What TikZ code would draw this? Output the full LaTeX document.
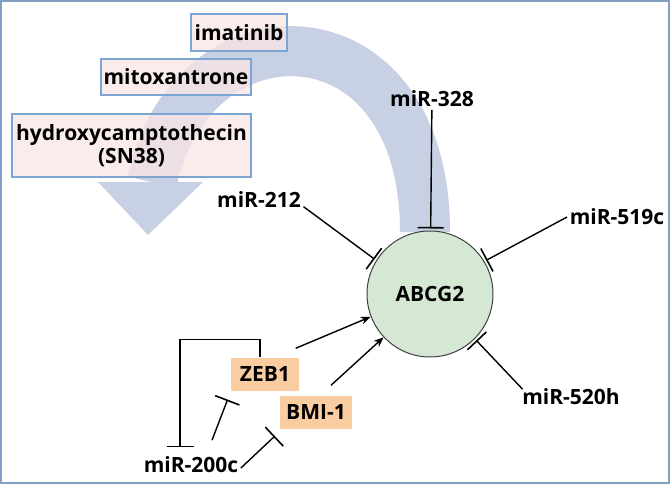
\documentclass[tikz,border=0pt]{standalone}
\usepackage{fontspec}
\setmainfont{Open Sans}
\usetikzlibrary{arrows.meta}

\definecolor{frameblue}{RGB}{130,160,195}
\definecolor{bandblue}{RGB}{200,208,228}
\definecolor{boxline}{RGB}{125,165,210}
\definecolor{boxfill}{RGB}{250,230,230}
\definecolor{tfill}{RGB}{250,205,160}
\definecolor{cellgreen}{RGB}{213,232,212}

\begin{document}
\begin{tikzpicture}[
        x = 1pt, y = 1pt, % one unit is one pixel
        > = {Stealth[length=10pt,width=8pt]}, % arrow head style
        line width = 1.4pt, % line style
        inh/.style = {-{Bar[width=26pt,line width=1.6pt]}, shorten > = 2pt}
    ]

    \tikzstyle{every node}=[font=\bfseries\fontsize{21}{23}\selectfont,
    inner sep = 2pt]
    \tikzstyle{drug}=[draw = boxline, fill = boxfill, fill opacity = 0.75,
    text opacity = 1, line width = 1.2pt, inner sep = 0pt]
    \tikzstyle{tf}=[fill = tfill, inner sep = 0pt, minimum height = 33]

    \useasboundingbox (0,0) rectangle (670,484);
    \draw[frameblue, line width = 2pt] (1,1) rectangle (669,483);

    % broad curved arrow behind the drug names
    \draw[bandblue, line width = 50pt] (425,252) .. controls (425,484) and
    (190,484) .. (152,302);
    \fill[bandblue] (98,302) -- (203,302) -- (148,249) -- cycle;

    \node (imat) [drug, minimum width = 96, minimum height = 37] at (239,451.5)
    {imatinib}; \node (mitox) [drug, minimum width = 150, minimum height = 36]
    at (176,407) {mitoxantrone}; \node (sn38) [drug, align = center,
    minimum width = 239, minimum height = 63] at (131.5,338.5)
    {hydroxycamptothecin\\(SN38)};

    \node (abcg) [circle, draw = black!75, fill = cellgreen, line width = 1pt,
    minimum size = 126] at (430,190) {ABCG2};

    \node (m328) at (432,385) {miR-328}; \node (m212) at (259,284) {miR-212};
    \node (m519) at (617,267) {miR-519c}; \node (m520) at (571,87) {miR-520h};
    \node (m200c) at (191,19) {miR-200c};

    \node (zeb) [tf, minimum width = 68] at (265,109.5) {ZEB1}; \node (bmi)
    [tf, minimum width = 72] at (316,71.5) {BMI-1};

    \path (m328) edge[inh] (abcg); \path ([yshift=4]m212.south east) edge[inh]
    (abcg.148); \path (m519.west) edge[inh] (abcg.31); \path
    ([xshift=3,yshift=-3]m520.north west) edge[inh] (abcg.-45);

    \path ([xshift=-4,yshift=9]zeb.north east) edge[->] (abcg.201); \path
    ([xshift=15,yshift=10]bmi.north) edge[->] (abcg.223);

    \draw[-{Bar[width=27pt,line width=1.6pt]}] ([xshift=-5]zeb.north) --
    ++(0,18) -| ([xshift=-11,yshift=7]m200c.north);
    \path ([xshift=21,yshift=14]m200c.north) edge[inh]
    ([xshift=-2,yshift=-6]zeb.south west); \path ([yshift=-3]m200c.east)
    edge[inh] ([xshift=-3,yshift=-5]bmi.south west);

\end{tikzpicture}
\end{document}
